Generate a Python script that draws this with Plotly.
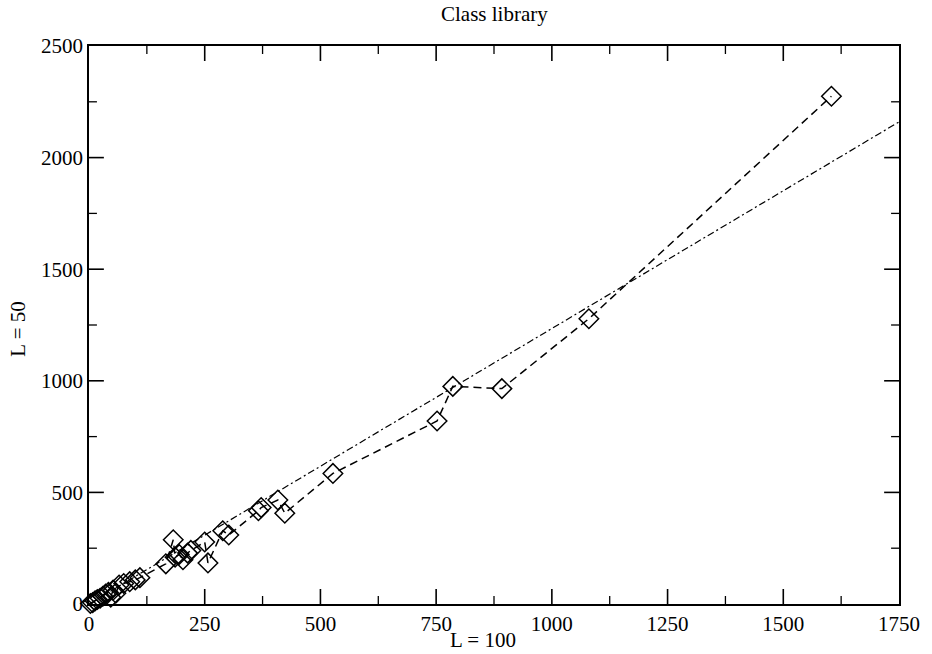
import plotly.graph_objects as go

# data (L = 100 on x, L = 50 on y)
x_l100 = [3, 8, 13, 18, 24, 30, 36, 42, 47, 52, 58, 65, 75, 88, 100, 110,
          166, 182, 186, 195, 203, 213, 220, 250, 257, 289, 302, 366, 372,
          408, 423, 527, 752, 786, 892, 1080, 1604]
y_l50 = [2, 6, 14, 20, 26, 35, 45, 52, 30, 62, 48, 85, 92, 100, 108, 118,
         180, 288, 210, 222, 198, 228, 240, 278, 184, 328, 309, 418, 432,
         466, 407, 585, 820, 975, 965, 1278, 2275]

fit_x = [0, 1750]
fit_y = [0, 2160]

x_range = [0, 1750]
y_range = [0, 2500]
x_ticks = [0, 250, 500, 750, 1000, 1250, 1500, 1750]
x_minor_ticks = [125, 375, 625, 875, 1125, 1375, 1625]
y_ticks = [0, 500, 1000, 1500, 2000, 2500]
y_minor_ticks = [250, 750, 1250, 1750, 2250]

FONT = "Liberation Serif"
W, H = 932, 654
ML, MR, MT, MB = 89, 26, 46, 50
PW, PH = W - ML - MR, H - MT - MB
MAJOR_LEN, MINOR_LEN = 15, 8

# pixel -> data unit conversions from the axis scales
ux = (x_range[1] - x_range[0]) / PW
uy = (y_range[1] - y_range[0]) / PH

fig = go.Figure()


def tick_trace(xv, yv, length_px, width):
    tx, ty = [], []
    for v in xv:
        L = length_px * uy
        tx += [v, v, None, v, v, None]
        ty += [y_range[0], y_range[0] + L, None, y_range[1], y_range[1] - L, None]
    for v in yv:
        L = length_px * ux
        tx += [x_range[0], x_range[0] + L, None, x_range[1], x_range[1] - L, None]
        ty += [v, v, None, v, v, None]
    fig.add_trace(go.Scatter(x=tx, y=ty, mode="lines",
                             line=dict(color="black", width=width),
                             showlegend=False, hoverinfo="skip"))


tick_trace(x_ticks[1:-1], y_ticks[1:-1], MAJOR_LEN, 1.6)
tick_trace(x_minor_ticks, y_minor_ticks, MINOR_LEN, 1.3)

fig.add_trace(go.Scatter(
    x=fit_x, y=fit_y, mode="lines",
    line=dict(color="black", width=1.2, dash="7px,3px,2px,3px"),
    showlegend=False,
))
fig.add_trace(go.Scatter(
    x=x_l100, y=y_l50, mode="lines+markers",
    line=dict(color="black", width=1.5, dash="8px,5px"),
    marker=dict(symbol="diamond-open", size=15, color="black",
                line=dict(color="black", width=1.5)),
    cliponaxis=False, showlegend=False,
))

axis_common = dict(showline=True, linecolor="black", linewidth=1.5,
                   showgrid=False, zeroline=False, mirror=True,
                   ticks="", tickfont=dict(family=FONT, size=21, color="black"))
fig.update_xaxes(range=x_range, tickvals=x_ticks, **axis_common)
fig.update_yaxes(range=y_range, tickvals=y_ticks, **axis_common)

fig.update_layout(
    width=W, height=H, margin=dict(l=ML, r=MR, t=MT, b=MB),
    paper_bgcolor="white", plot_bgcolor="white",
    annotations=[
        dict(text="Class library", x=0.5, y=1.057, xref="paper", yref="paper",
             showarrow=False, font=dict(family=FONT, size=21, color="black"),
             xanchor="center", yanchor="middle"),
        dict(text="L = 100", x=0.487, y=-0.0645, xref="paper", yref="paper",
             showarrow=False, font=dict(family=FONT, size=21, color="black"),
             xanchor="center", yanchor="middle"),
        dict(text="L = 50", x=-0.088, y=0.493, xref="paper", yref="paper",
             showarrow=False, textangle=-90,
             font=dict(family=FONT, size=21, color="black"),
             xanchor="center", yanchor="middle"),
    ],
)

fig.write_html("out.html")
